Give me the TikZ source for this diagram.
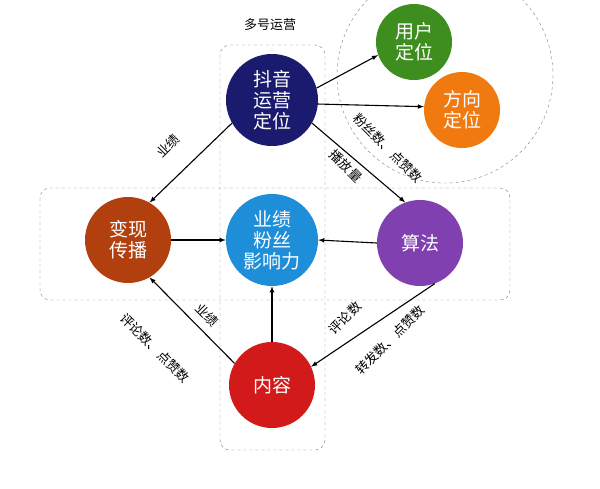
\documentclass[tikz,border=0pt]{standalone}
\usepackage{fontspec}
\setmainfont{Noto Sans CJK SC}
\begin{document}
\begin{tikzpicture}[x=1pt,y=-1pt,
  ball/.style={circle,minimum size=#1,inner sep=0pt,text=white,align=center,font=\fontsize{19}{21}\selectfont},
  arr/.style={-latex,line width=1.1pt},
  lab/.style={font=\fontsize{13}{14}\selectfont,inner sep=1pt},
  dbox/.style={draw=gray,dashed,rounded corners=10pt}]
\useasboundingbox[fill=white] (0,0) rectangle (600,488);
\draw[dbox] (220,45) rectangle (325,450);
\draw[dbox] (40,188) rectangle (510,300);
\draw[gray,dashed] (445,75) circle (108);
\node[font=\fontsize{13}{15}\selectfont] (t) at (270,25) {多号运营};
\node[ball=92pt,fill={rgb,255:red,26;green,26;blue,110}] (dy) at (272,100) {抖音\\运营\\定位};
\node[ball=76pt,fill={rgb,255:red,62;green,142;blue,31}] (yh) at (414,42) {用户\\定位};
\node[ball=76pt,fill={rgb,255:red,240;green,122;blue,16}] (fx) at (462,110) {方向\\定位};
\node[ball=86pt,fill={rgb,255:red,178;green,64;blue,15}] (bx) at (128,240) {变现\\传播};
\node[ball=92pt,fill={rgb,255:red,30;green,142;blue,216}] (yj) at (272,240) {业绩\\粉丝\\影响力};
\node[ball=86pt,fill={rgb,255:red,128;green,64;blue,176}] (sf) at (420,243) {算法};
\node[ball=86pt,fill={rgb,255:red,210;green,26;blue,26}] (nr) at (272,385) {内容};
\draw[arr] (dy.15) -- (yh.200);
\draw[arr] (dy.-5) -- (fx.175);
\draw[arr] (dy.-30) -- (sf.110);
\draw[arr] (dy.210) -- (bx.60);
\draw[arr] (bx.east) -- (yj.west);
\draw[arr] (sf.west) -- (yj.east);
\draw[arr] (nr.north) -- (yj.south);
\draw[arr] (nr.150) -- (bx.-60);
\draw[arr] (sf.-70) -- (nr.25);
\node[lab,rotate=45] (l1) at (168,146) {业绩};
\node[lab,rotate=-45] (l2) at (388,148) {粉丝数、点赞数};
\node[lab,rotate=-45] (l3) at (346,166) {播放量};
\node[lab,rotate=-45] (l4) at (155,348) {评论数、点赞数};
\node[lab,rotate=-45] (l5) at (207,315) {业绩};
\node[lab,rotate=45] (l6) at (345,318) {评论数};
\node[lab,rotate=45] (l7) at (390,340) {转发数、点赞数};
\end{tikzpicture}
\end{document}
